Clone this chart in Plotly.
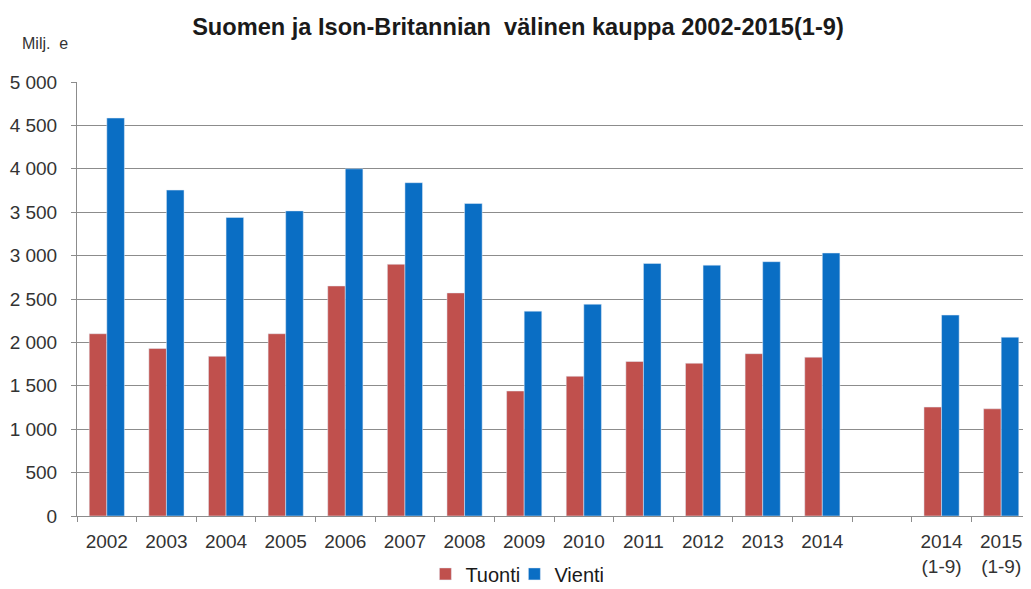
import plotly.graph_objects as go

# categories (blank slot separates full years from Jan-Sep comparison)
categories = ["2002", "2003", "2004", "2005", "2006", "2007", "2008", "2009",
              "2010", "2011", "2012", "2013", "2014", " ",
              "2014<br>(1-9)", "2015<br>(1-9)"]

# Milj. e
tuonti = [2100, 1930, 1840, 2100, 2650, 2900, 2570, 1440,
          1610, 1780, 1760, 1870, 1830, None, 1255, 1235]
vienti = [4585, 3755, 3440, 3515, 4000, 3840, 3600, 2360,
          2440, 2910, 2890, 2930, 3030, None, 2315, 2060]

RED = "#C0504D"
BLUE = "#0A6EC4"
GRID = "#8c8c8c"

fig = go.Figure()
fig.add_trace(go.Bar(x=categories, y=tuonti, name="Tuonti", marker_color=RED))
fig.add_trace(go.Bar(x=categories, y=vienti, name="Vienti", marker_color=BLUE))

# page body has an 8px margin, so the figure is sized to fit the window
fig.update_layout(
    width=1023,
    height=581,
    margin={"l": 69, "r": 0, "t": 74, "b": 73},
    paper_bgcolor="white",
    plot_bgcolor="white",
    font={"family": "Liberation Sans, Arial, sans-serif", "size": 19, "color": "#333333"},
    separators=", ",
    barmode="group",
    bargap=0.41,
    bargroupgap=0,
    title={
        "text": "<b>Suomen ja Ison-Britannian  välinen kauppa 2002-2015(1-9)</b>",
        "x": 0.4985,
        "xanchor": "center",
        "y": 0.967,
        "yanchor": "middle",
        "font": {"size": 23.6, "color": "#1a1a1a"},
    },
    legend={
        "orientation": "h",
        "xref": "container",
        "yref": "container",
        "x": 0.495,
        "xanchor": "center",
        "y": 0.026,
        "yanchor": "middle",
        "font": {"size": 20, "color": "#1a1a1a"},
        "itemwidth": 30,
        "entrywidth": 44,
    },
    annotations=[
        {
            "text": "Milj.  e",
            "xref": "paper",
            "yref": "paper",
            "x": -0.0335,
            "y": 1.0876,
            "xanchor": "center",
            "yanchor": "middle",
            "showarrow": False,
            "font": {"size": 16, "color": "#333333"},
        }
    ],
)

fig.update_yaxes(
    range=[0, 5000],
    dtick=500,
    tickformat=",d",
    automargin=False,
    showgrid=True,
    gridcolor=GRID,
    gridwidth=1,
    showline=True,
    linecolor=GRID,
    ticks="outside",
    ticklen=5,
    tickcolor=GRID,
    ticklabelstandoff=10,
    zeroline=False,
)
fig.update_xaxes(
    type="category",
    automargin=False,
    showline=True,
    linecolor=GRID,
    ticks="outside",
    tickson="boundaries",
    ticklen=5,
    tickcolor=GRID,
    ticklabelstandoff=8,
    showgrid=False,
)

fig.write_html("out.html")
